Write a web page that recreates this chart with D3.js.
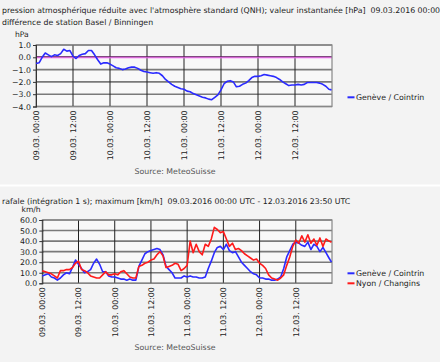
<!DOCTYPE html>
<html>
<head>
<meta charset="utf-8">
<script src="https://cdn.jsdelivr.net/npm/d3@7"></script>
<style>
  body { margin: 0; background: #f3f3f3; }
  svg { display: block; font-family: "DejaVu Sans", sans-serif; }
  text { white-space: pre; }
</style>
</head>
<body>
<svg id="chart" width="440" height="362"></svg>
<script>
// hourly values, 09.03.2016 00:00 UTC onwards (last one is 12.03 23:50)
const qnhDiffGeneve = [
  -0.5, -0.45, 0.0, 0.35, 0.2, 0.05, 0.2, 0.15, 0.3, 0.65, 0.5, 0.55,
  0.1, -0.1, 0.15, 0.25, 0.3, 0.55, 0.55, 0.2, -0.2, -0.55, -0.45, -0.45,
  -0.55, -0.7, -0.85, -0.9, -1.0, -0.95, -0.85, -0.8, -0.8, -0.9, -1.05, -1.15,
  -1.2, -1.25, -1.3, -1.25, -1.3, -1.5, -1.8, -2.0, -2.2, -2.35, -2.45, -2.55,
  -2.6, -2.75, -2.8, -2.95, -3.05, -3.15, -3.25, -3.3, -3.4, -3.45, -3.25, -3.05,
  -2.65, -2.15, -1.95, -1.9, -2.0, -2.4, -2.35, -2.2, -2.1, -1.9, -1.65, -1.55,
  -1.55, -1.5, -1.4, -1.45, -1.5, -1.55, -1.65, -1.8, -2.0, -2.15, -2.3, -2.25,
  -2.25, -2.2, -2.25, -2.2, -2.05, -2.05, -2.05, -2.05, -2.1, -2.2, -2.35, -2.6,
  -2.65
];
const gustGeneve = [
  7, 8, 9, 6, 5, 3, 5, 8, 10, 9, 15, 22,
  18, 14, 10, 11, 13, 19, 23, 18, 11, 11, 7, 6,
  6, 5, 4, 4, 3, 4, 3, 3, 16, 22, 28, 30,
  31, 32, 33, 32, 27, 16, 13, 10, 5, 5, 5, 7,
  6, 7, 6, 6, 5, 5, 6, 14, 21, 29, 34, 35,
  32, 37, 31, 29, 30, 25, 20, 17, 14, 11, 9, 8,
  5, 5, 4, 4, 3, 3, 4, 6, 14, 25, 31, 37,
  39, 38, 36, 35, 39, 32, 37, 35, 30, 34, 29, 24,
  20
];
const gustNyon = [
  12, 11, 10, 9, 7, 5, 12, 12, 13, 13, 15, 19,
  21, 13, 12, 10, 7, 6, 5, 5, 8, 11, 8, 8,
  9, 8, 11, 12, 9, 6, 5, 5, 16, 17, 19, 20,
  22, 23, 27, 30, 26, 15, 16, 17, 19, 18, 12, 14,
  17, 40, 29, 37, 30, 27, 37, 35, 42, 53, 51, 48,
  49, 42, 35, 38, 32, 33, 31, 28, 26, 24, 22, 23,
  19, 17, 14, 8, 5, 4, 3, 5, 8, 17, 25, 35,
  41, 38, 45, 39, 46, 38, 42, 36, 43, 35, 42, 40,
  39
];
const qnhTicks = [1, 0, -1, -2, -3, -4];
const gustTicks = [0, 10, 20, 30, 40, 50, 60];
const topTitle = "pression atmosphérique réduite avec l'atmosphère standard (QNH); valeur instantanée [hPa]  09.03.2016 00:00 UTC - 12.03.2016 23:50 UTC";
const topSubtitle = "différence de station Basel / Binningen";
const bottomTitle = "rafale (intégration 1 s); maximum [km/h]  09.03.2016 00:00 UTC - 12.03.2016 23:50 UTC";

const start = new Date(Date.UTC(2016, 2, 9, 0, 0));
const end = new Date(Date.UTC(2016, 2, 13, 0, 0));
// hour i, except the last sample at 23:50
function timeOf(i, n) {
  return i === n - 1 ? d3.utcMinute.offset(start, 95 * 60 + 50) : d3.utcHour.offset(start, i);
}
const fmt = d3.utcFormat("%d.%m. %H:%M");
const gridTimes = d3.utcHour.every(12).range(start, d3.utcHour.offset(end, 1));
const labelTimes = gridTimes.slice(0, 8);

const svg = d3.select("#chart");
svg.append("rect").attr("width", 440).attr("height", 362).attr("fill", "#f3f3f3");
svg.append("rect").attr("y", 184.5).attr("width", 440).attr("height", 2).attr("fill", "#ffffff");

function drawPanel(p) {
  const g = svg.append("g");
  const x = d3.scaleUtc().domain([start, end]).range([p.left, 332]);
  const y = d3.scaleLinear().domain(p.domain).range([p.bottom, p.top]);

  p.titles.forEach((t, i) => {
    g.append("text").attr("x", 2).attr("y", p.titleY + i * 12.5)
      .attr("font-size", 7.8).attr("fill", "#222").text(t);
  });
  g.append("text").attr("x", p.unitX).attr("y", p.top - 8)
    .attr("font-size", 7.6).attr("fill", "#222").text(p.unit);

  g.append("rect").attr("x", p.left).attr("y", p.top)
    .attr("width", 332 - p.left).attr("height", p.bottom - p.top)
    .attr("fill", "#f8f8f8");

  // horizontal grid
  g.append("g").selectAll("line").data(p.ticks).join("line")
    .attr("x1", p.left).attr("x2", 332)
    .attr("y1", d => y(d)).attr("y2", d => y(d))
    .attr("stroke", "#7a7a7a").attr("stroke-width", 1.6);
  // vertical grid
  g.append("g").selectAll("line").data(gridTimes.slice(1, 8)).join("line")
    .attr("x1", d => x(d)).attr("x2", d => x(d))
    .attr("y1", p.top).attr("y2", p.bottom)
    .attr("stroke", "#222").attr("stroke-width", 1);

  if (p.zeroLine) {
    g.append("line").attr("x1", p.left).attr("x2", 332)
      .attr("y1", y(0) - 0.5).attr("y2", y(0) - 0.5)
      .attr("stroke", "#6a1a6a").attr("stroke-width", 1);
    g.append("line").attr("x1", p.left).attr("x2", 332)
      .attr("y1", y(0) + 0.5).attr("y2", y(0) + 0.5)
      .attr("stroke", "#ff70ff").attr("stroke-width", 1);
  }

  g.append("rect").attr("x", p.left).attr("y", p.top)
    .attr("width", 332 - p.left).attr("height", p.bottom - p.top)
    .attr("fill", "none").attr("stroke", "#888").attr("stroke-width", 1.2);

  // y axis
  const yAxis = g.append("g").attr("transform", `translate(${p.left},0)`)
    .call(d3.axisLeft(y).tickValues(p.ticks).tickSize(3).tickPadding(2).tickFormat(d3.format(".1f")));
  yAxis.select(".domain").attr("stroke", "#333");
  yAxis.selectAll(".tick line").attr("stroke", "#333").attr("x2", -3).attr("x1", 1);
  yAxis.selectAll("text").attr("font-size", 7.8).attr("fill", "#222")
    .attr("font-family", "DejaVu Sans, sans-serif");

  // x labels, rotated
  g.append("g").selectAll("text").data(labelTimes).join("text")
    .attr("transform", d => `translate(${x(d) + 2.8},${p.bottom + 4}) rotate(-90)`)
    .attr("text-anchor", "end").attr("font-size", 7.8).attr("fill", "#222")
    .text(d => fmt(d));

  // series
  const line = d3.line().x(d => x(d.t)).y(d => y(d.v));
  p.series.forEach(s => {
    const pts = s.values.map((v, i) => ({ t: timeOf(i, s.values.length), v: v }));
    g.append("path").datum(pts).attr("d", line)
      .attr("fill", "none").attr("stroke", s.color).attr("stroke-width", 1.6)
      .attr("stroke-linejoin", "round");
  });

  // legend
  p.series.forEach((s, i) => {
    const ly = p.legendY + i * 10;
    g.append("line").attr("x1", 347.5).attr("x2", 354.5).attr("y1", ly).attr("y2", ly)
      .attr("stroke", s.color).attr("stroke-width", 2);
    g.append("text").attr("x", 356).attr("y", ly + 2.8)
      .attr("font-size", 7.8).attr("fill", "#222").text(s.name);
  });

  g.append("text").attr("x", 175).attr("y", p.sourceY).attr("text-anchor", "middle")
    .attr("font-size", 7.8).attr("fill", "#555").text("Source: MeteoSuisse");
}

drawPanel({
  titles: [topTitle, topSubtitle], titleY: 12.5, unit: "hPa", unitX: 15,
  top: 45, bottom: 106.5, left: 36, domain: [-4, 1], ticks: qnhTicks, zeroLine: true,
  series: [{ name: "Genève / Cointrin", values: qnhDiffGeneve, color: "#2a2aff" }],
  legendY: 97.3, sourceY: 174
});
drawPanel({
  titles: [bottomTitle], titleY: 203.5, unit: "km/h", unitX: 21.5,
  top: 220, bottom: 283.3, left: 42.3, domain: [0, 60], ticks: gustTicks, zeroLine: false,
  series: [
    { name: "Genève / Cointrin", values: gustGeneve, color: "#2a2aff" },
    { name: "Nyon / Changins", values: gustNyon, color: "#ff1a1a" }
  ],
  legendY: 273.3, sourceY: 350
});
</script>
</body>
</html>
